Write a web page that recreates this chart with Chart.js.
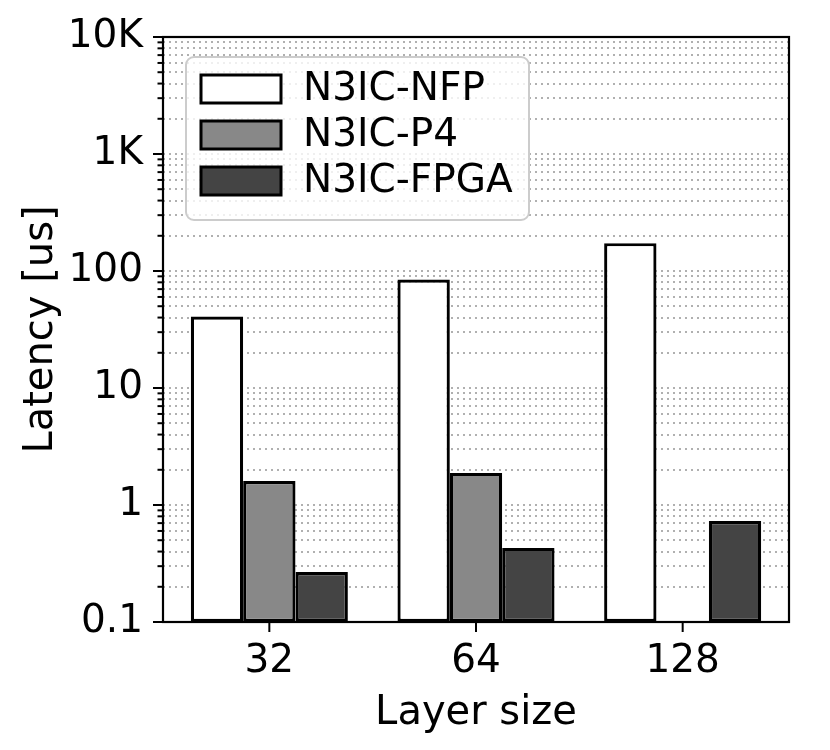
<!DOCTYPE html>
<html>
<head>
<meta charset="utf-8">
<script src="https://cdn.jsdelivr.net/npm/chart.js@4.4.1/dist/chart.umd.min.js"></script>
<style>
  html, body { margin: 0; padding: 0; background: #fff; }
  #wrap { width: 830px; height: 750px; }
</style>
</head>
<body>
<div id="wrap"><canvas id="latency-chart" width="830" height="750"></canvas></div>
<script>
// data
const layerSizes = ['32', '64', '128'];
const seriesNames = ['N3IC-NFP', 'N3IC-P4', 'N3IC-FPGA'];
const nfpLatency = [40.8, 84.6, 173];
const p4Latency = [1.6, 1.88, null];   // no P4 bar for 128
const fpgaLatency = [0.267, 0.43, 0.73];
const seriesColors = ['#ffffff', '#888888', '#444444'];

// y axis: decades and their labels
const decadeValues = [0.1, 1, 10, 100, 1000, 10000];
const decadeLabels = ['0.1', '1', '10', '100', '1K', '10K'];

const FONT = 'DejaVu Sans';
const X_MARGIN = 3; // axes frame sits a little outside the outer categories

// every log tick (1..9 x decade), minors included
function logTicks() {
    const out = [];
    for (let i = 0; i < decadeValues.length; i++) {
        const d = decadeValues[i];
        const last = i === decadeValues.length - 1;
        for (let m = 1; m <= (last ? 1 : 9); m++) {
            out.push({ value: Number((m * d).toPrecision(6)), major: m === 1 });
        }
    }
    return out;
}

// dotted grid across the whole frame, under the bars
const gridPlugin = {
    id: 'dottedGrid',
    beforeDatasetsDraw(chart) {
        const ctx = chart.ctx;
        const a = chart.chartArea;
        const ys = chart.scales.y;
        ctx.save();
        ctx.strokeStyle = '#b0b0b0';
        ctx.lineWidth = 2;
        ctx.setLineDash([2, 4]);
        ys.ticks.forEach(function(t) {
            const py = Math.round(ys.getPixelForValue(t.value));
            ctx.beginPath();
            ctx.moveTo(a.left - X_MARGIN, py);
            ctx.lineTo(a.right + X_MARGIN, py);
            ctx.stroke();
        });
        ctx.restore();
    }
};

// frame, tick marks and legend drawn on top
const decorPlugin = {
    id: 'decor',
    afterDraw(chart) {
        const ctx = chart.ctx;
        const a = chart.chartArea;
        const ys = chart.scales.y;
        const xs = chart.scales.x;
        const left = a.left - X_MARGIN, right = a.right + X_MARGIN;
        ctx.save();
        ctx.strokeStyle = '#000';
        ctx.lineWidth = 2.2;
        ctx.strokeRect(left, a.top, right - left, a.bottom - a.top);

        // y tick marks
        ctx.lineWidth = 2;
        ys.ticks.forEach(function(t) {
            const py = ys.getPixelForValue(t.value);
            const len = t.major ? 10 : 5.5;
            ctx.beginPath();
            ctx.moveTo(left, py);
            ctx.lineTo(left - len, py);
            ctx.stroke();
        });
        // x tick marks
        xs.ticks.forEach(function(t, i) {
            const px = xs.getPixelForTick(i);
            ctx.beginPath();
            ctx.moveTo(px, a.bottom);
            ctx.lineTo(px, a.bottom + 10);
            ctx.stroke();
        });

        // legend box inside plot area (upper left)
        const bx = left + 23, by = a.top + 20, bw = 343, bh = 163;
        ctx.beginPath();
        ctx.roundRect(bx, by, bw, bh, 8);
        ctx.fillStyle = 'rgba(255,255,255,0.8)';
        ctx.fill();
        ctx.strokeStyle = '#cccccc';
        ctx.lineWidth = 2;
        ctx.stroke();

        ctx.font = '39px "' + FONT + '"';
        ctx.textBaseline = 'middle';
        ctx.textAlign = 'left';
        chart.data.datasets.forEach(function(ds, i) {
            const cy = by + 32 + i * 46;
            ctx.fillStyle = ds.backgroundColor;
            ctx.fillRect(bx + 15, cy - 14, 80, 28);
            ctx.strokeStyle = '#000';
            ctx.lineWidth = 3;
            ctx.strokeRect(bx + 15, cy - 14, 80, 28);
            ctx.fillStyle = '#000';
            ctx.fillText(ds.label, bx + 117, cy + 1);
        });
        ctx.restore();
    }
};

const ctx = document.getElementById('latency-chart').getContext('2d');
const chart = new Chart(ctx, {
    type: 'bar',
    data: {
        labels: layerSizes,
        datasets: [nfpLatency, p4Latency, fpgaLatency].map(function(vals, i) {
            return {
                label: seriesNames[i],
                data: vals,
                backgroundColor: seriesColors[i],
                borderColor: '#000',
                borderWidth: 3.2,
                borderSkipped: false,
                categoryPercentage: 0.76,
                barPercentage: 1.0
            };
        })
    },
    options: {
        responsive: false,
        animation: false,
        devicePixelRatio: 1,
        layout: { padding: { top: 37, right: 44, left: 0, bottom: 0 } },
        plugins: {
            legend: { display: false },
            tooltip: { enabled: false }
        },
        scales: {
            x: {
                grid: { display: false, drawTicks: false },
                border: { display: false },
                ticks: {
                    color: '#000',
                    font: { family: FONT, size: 39 },
                    padding: 16,
                    maxRotation: 0
                },
                title: {
                    display: true,
                    text: 'Layer size',
                    color: '#000',
                    font: { family: FONT, size: 40 },
                    padding: { top: 12, bottom: 12 }
                },
                afterFit(scale) {
                    scale.height = 128;
                    scale.paddingLeft = 0;
                    scale.paddingRight = 0;
                }
            },
            y: {
                type: 'logarithmic',
                min: 0.1,
                max: 10000,
                border: { display: false },
                grid: { display: false, drawTicks: false },
                ticks: {
                    autoSkip: false,
                    color: '#000',
                    font: { family: FONT, size: 39 },
                    padding: 23,
                    callback: function(value) {
                        const idx = decadeValues.findIndex(function(d) { return Math.abs(d - value) < d * 1e-6; });
                        return idx >= 0 ? decadeLabels[idx] : '';
                    }
                },
                title: {
                    display: true,
                    text: 'Latency [us]',
                    color: '#000',
                    font: { family: FONT, size: 40 },
                    padding: { top: 18, bottom: 18 }
                },
                afterBuildTicks(scale) { scale.ticks = logTicks(); },
                afterFit(scale) {
                    scale.width = 166;
                    scale.paddingTop = 0;
                    scale.paddingBottom = 0;
                }
            }
        }
    },
    plugins: [gridPlugin, decorPlugin]
});
</script>
</body>
</html>
